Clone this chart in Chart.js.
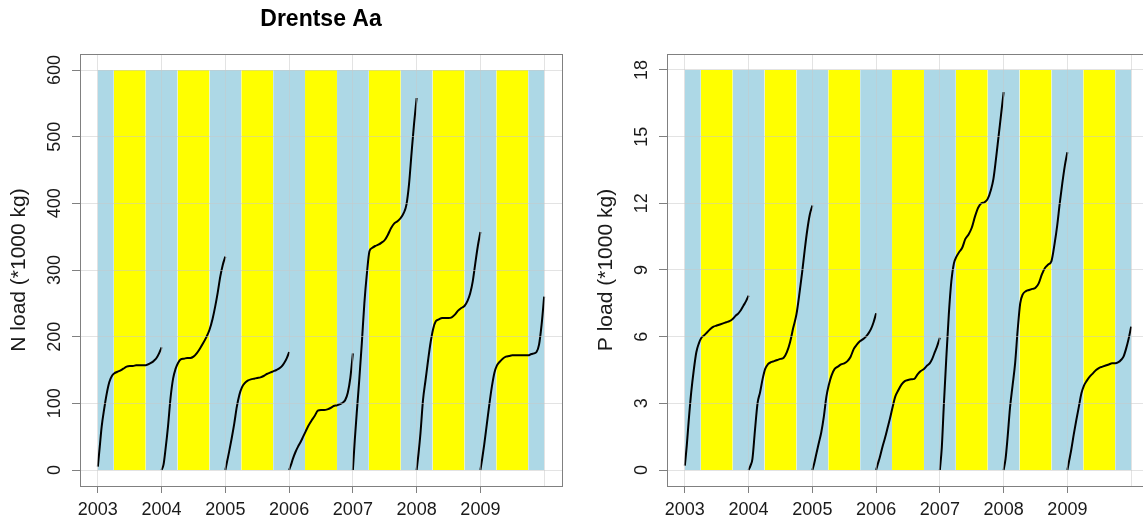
<!DOCTYPE html>
<html>
<head>
<meta charset="utf-8">
<script src="https://cdn.jsdelivr.net/npm/chart.js@4.4.1/dist/chart.umd.min.js"></script>
<style>
  html, body { margin: 0; padding: 0; background: #fff; overflow: hidden; }
  body { width: 1143px; height: 521px; position: relative; }
  canvas { position: absolute; top: 0; }
  #nChart { left: 0; }
  #pChart { left: 587px; }
</style>
</head>
<body>
<canvas id="nChart" width="571" height="521"></canvas>
<canvas id="pChart" width="571" height="521"></canvas>
<script>
// Cumulative loads within each year, sampled at these fractions of the year
const years = [2003, 2004, 2005, 2006, 2007, 2008, 2009];
const yearFraction = [0, 0.03, 0.06, 0.1, 0.14, 0.18, 0.22, 0.26, 0.3, 0.35, 0.4, 0.45,
                      0.5, 0.55, 0.6, 0.65, 0.7, 0.75, 0.8, 0.84, 0.88, 0.92, 0.96, 1.0];

// N load (*1000 kg)
const nLoad2003 = [5, 35, 65, 92, 115, 132, 141, 145, 147, 149, 152, 155, 156, 156, 157, 157, 157, 157, 159, 161, 164, 168, 175, 184];
const nLoad2004 = [0, 8, 30, 65, 108, 137, 152, 161, 166, 167, 168, 168, 170, 175, 182, 190, 199, 210, 227, 245, 266, 290, 308, 320];
const nLoad2005 = [0, 14, 28, 48, 70, 95, 113, 124, 130, 134, 136, 137, 138, 139, 141, 144, 146, 148, 150, 152, 155, 160, 167, 177];
const nLoad2006 = [0, 8, 17, 27, 35, 42, 50, 58, 66, 74, 81, 89, 90, 90, 91, 93, 96, 97, 99, 101, 105, 116, 138, 175];
const nLoad2007 = [0, 45, 85, 135, 190, 250, 295, 328, 333, 336, 338, 341, 345, 353, 363, 370, 373, 378, 386, 398, 428, 475, 520, 558];
const nLoad2008 = [0, 25, 55, 105, 135, 165, 192, 212, 223, 226, 228, 228, 228, 229, 233, 239, 243, 246, 254, 265, 283, 310, 336, 357];
const nLoad2009 = [0, 18, 38, 68, 98, 125, 146, 157, 162, 167, 170, 171, 172, 172, 172, 172, 172, 172, 174, 175, 177, 188, 218, 260];

// P load (*1000 kg)
const pLoad2003 = [0.2, 1.1, 2.2, 3.5, 4.5, 5.3, 5.7, 5.95, 6.05, 6.2, 6.35, 6.45, 6.5, 6.55, 6.6, 6.65, 6.7, 6.8, 6.95, 7.05, 7.2, 7.4, 7.6, 7.85];
const pLoad2004 = [0, 0.2, 0.5, 1.8, 3.0, 3.5, 4.1, 4.55, 4.75, 4.85, 4.9, 4.95, 5.0, 5.05, 5.3, 5.75, 6.4, 7.0, 8.0, 8.9, 9.9, 10.8, 11.5, 11.9];
const pLoad2005 = [0, 0.3, 0.7, 1.2, 1.7, 2.4, 3.3, 3.85, 4.25, 4.55, 4.65, 4.75, 4.8, 4.9, 5.1, 5.45, 5.65, 5.8, 5.9, 6.0, 6.15, 6.35, 6.65, 7.05];
const pLoad2006 = [0, 0.3, 0.6, 1.05, 1.45, 1.9, 2.35, 2.85, 3.3, 3.6, 3.85, 4.0, 4.05, 4.08, 4.1, 4.3, 4.45, 4.55, 4.7, 4.8, 5.0, 5.3, 5.6, 5.95];
const pLoad2007 = [0, 1.0, 2.8, 5.0, 7.0, 8.5, 9.3, 9.6, 9.8, 10.0, 10.4, 10.6, 10.9, 11.4, 11.8, 12.0, 12.05, 12.2, 12.6, 13.1, 14.0, 15.0, 16.0, 17.0];
const pLoad2008 = [0, 0.5, 1.4, 2.8, 3.8, 4.8, 6.3, 7.5, 7.9, 8.05, 8.1, 8.15, 8.2, 8.4, 8.8, 9.1, 9.25, 9.4, 10.2, 11.0, 12.0, 12.9, 13.7, 14.3];
const pLoad2009 = [0, 0.45, 0.9, 1.6, 2.25, 2.85, 3.45, 3.8, 4.0, 4.2, 4.35, 4.5, 4.6, 4.65, 4.7, 4.75, 4.8, 4.8, 4.85, 4.95, 5.1, 5.45, 5.9, 6.45];

const nLoadByYear = [nLoad2003, nLoad2004, nLoad2005, nLoad2006, nLoad2007, nLoad2008, nLoad2009];
const pLoadByYear = [pLoad2003, pLoad2004, pLoad2005, pLoad2006, pLoad2007, pLoad2008, pLoad2009];

// axis ticks
const xTicks = [2003, 2004, 2005, 2006, 2007, 2008, 2009, 2010];
const nTicks = [0, 100, 200, 300, 400, 500, 600];
const pTicks = [0, 3, 6, 9, 12, 15, 18];

// winter / summer half-year bands
const seasonEdges = [2003, 2003.25, 2003.75, 2004.25, 2004.75, 2005.25, 2005.75, 2006.25,
                     2006.75, 2007.25, 2007.75, 2008.25, 2008.75, 2009.25, 2009.75, 2010];
const seasonColors = ['#add8e6', '#ffff00'];

const FONT = '"Liberation Sans", Arial, sans-serif';

// box around plot + rotated y tick labels (R style)
const frameAndLabels = {
    id: 'frameAndLabels',
    afterDraw(chart, args, opts) {
        const { ctx, chartArea: a } = chart;
        const yScale = chart.scales.y;
        ctx.save();
        ctx.strokeStyle = '#808080';
        ctx.lineWidth = 1;
        ctx.strokeRect(a.left + 0.5, a.top + 0.5, a.right - a.left, a.bottom - a.top);
        ctx.fillStyle = '#1a1a1a';
        ctx.font = '18px ' + FONT;
        ctx.textAlign = 'center';
        ctx.textBaseline = 'middle';
        opts.ticks.forEach(v => {
            ctx.save();
            ctx.translate(a.left - 25, yScale.getPixelForValue(v));
            ctx.rotate(-Math.PI / 2);
            ctx.fillText(String(v), 0, 0);
            ctx.restore();
        });
        ctx.restore();
    }
};

function makeChart(canvasId, loads, ticks, yLabel, titleText) {
    const top = ticks[ticks.length - 1];
    const pad = top * 0.04;

    const bandSets = [];
    for (let i = 0; i < seasonEdges.length - 1; i++) {
        bandSets.push({
            data: [{ x: seasonEdges[i], y: top }, { x: seasonEdges[i + 1], y: top }],
            backgroundColor: seasonColors[i % 2],
            borderColor: 'transparent',
            borderWidth: 0,
            pointRadius: 0,
            fill: 'origin',
            order: 2
        });
    }

    const curveSets = years.map((yr, k) => ({
        data: yearFraction.map((f, i) => ({ x: yr + f, y: loads[k][i] })),
        borderColor: '#000',
        borderWidth: 2,
        pointRadius: 0,
        fill: false,
        cubicInterpolationMode: 'monotone',
        order: 1
    }));

    const gridCommon = {
        color: 'rgba(200, 200, 200, 0.5)',
        lineWidth: 1,
        z: 1
    };

    return new Chart(document.getElementById(canvasId), {
        type: 'line',
        data: { datasets: [...bandSets, ...curveSets] },
        options: {
            responsive: false,
            animation: false,
            events: [],
            layout: { padding: { top: titleText ? 0 : 54, right: 9, left: 0, bottom: 0 } },
            plugins: {
                legend: { display: false },
                tooltip: { enabled: false },
                filler: { propagate: false },
                title: {
                    display: !!titleText,
                    text: titleText || '',
                    fullSize: false,
                    color: '#000',
                    font: { family: FONT, size: 23, weight: 'bold', lineHeight: 1.2 },
                    padding: { top: 6, bottom: 20.4 }
                },
                frameAndLabels: { ticks: ticks }
            },
            scales: {
                x: {
                    type: 'linear',
                    min: 2002.72,
                    max: 2010.28,
                    afterBuildTicks: s => { s.ticks = xTicks.map(v => ({ value: v })); },
                    afterFit: s => { s.height = 35; },
                    border: { display: false },
                    grid: {
                        ...gridCommon,
                        tickLength: 7,
                        tickColor: c => (c.tick && c.tick.value === 2010) ? 'rgba(0,0,0,0)' : '#808080'
                    },
                    ticks: {
                        autoSkip: false,
                        maxRotation: 0,
                        padding: 6,
                        color: '#1a1a1a',
                        font: { family: FONT, size: 18, lineHeight: 1.2 },
                        callback: v => (v === 2010 ? '' : String(v))
                    }
                },
                y: {
                    type: 'linear',
                    min: -pad,
                    max: top + pad,
                    afterBuildTicks: s => { s.ticks = ticks.map(v => ({ value: v })); },
                    afterFit: s => { s.width = 80; },
                    border: { display: false },
                    grid: { ...gridCommon, tickLength: 8, tickColor: '#808080' },
                    ticks: { display: false },
                    title: {
                        display: true,
                        text: yLabel,
                        color: '#1a1a1a',
                        font: { family: FONT, size: 21, lineHeight: 1.2 },
                        padding: { top: 7, bottom: 0 }
                    }
                }
            }
        },
        plugins: [frameAndLabels]
    });
}

makeChart('nChart', nLoadByYear, nTicks, 'N load (*1000 kg)', 'Drentse Aa');
makeChart('pChart', pLoadByYear, pTicks, 'P load (*1000 kg)', null);
</script>
</body>
</html>
